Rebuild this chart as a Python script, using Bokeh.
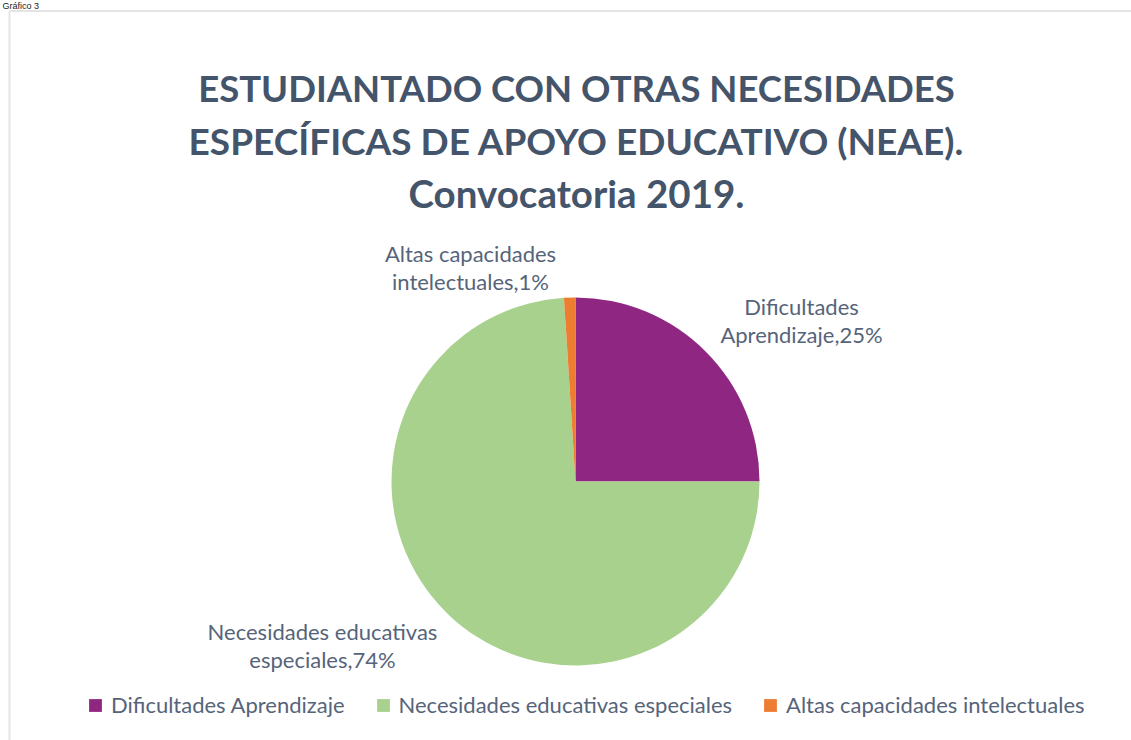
import numpy as np
from bokeh.plotting import figure
from bokeh.models import Range1d, Legend, LegendItem, ColumnDataSource
from bokeh.core.properties import value
from bokeh.embed import file_html
from bokeh.resources import INLINE

categories = ["Dificultades Aprendizaje", "Necesidades educativas especiales", "Altas capacidades intelectuales"]
percentages = [25, 74, 1]
colors = ["#8F2782", "#A9D18E", "#ED7D31"]
label_lines = [["Dificultades", "Aprendizaje,25%"],
               ["Necesidades educativas", "especiales,74%"],
               ["Altas capacidades", "intelectuales,1%"]]
title_lines = ["ESTUDIANTADO CON OTRAS NECESIDADES",
               "ESPECÍFICAS DE APOYO EDUCATIVO (NEAE).",
               "Convocatoria 2019."]

W, H = 1131, 740
p = figure(width=W, height=H, output_backend="svg", toolbar_location=None,
           x_range=Range1d(0, W), y_range=Range1d(0, H), min_border=0)
p.axis.visible = False
p.grid.visible = False
p.outline_line_color = None
p.background_fill_color = "white"
p.border_fill_color = "white"

def Y(page_y):
    return H - page_y

def X(page_x):
    return page_x

# caption above the chart box
p.text(x=[X(2)], y=[Y(0.5)], text=["Gráfico 3"], text_font=value("Liberation Sans"),
       text_font_size="9px", text_color="#222222", text_align="left",
       text_baseline="top")

# frame border (top and left)
p.line([X(9), X(1131)], [Y(10.5), Y(10.5)], line_color="#E4E4E4", line_width=2)
p.line([X(9), X(9)], [Y(10.5), Y(740)], line_color="#E4E4E4", line_width=2)

# pie, clockwise from 12 o'clock
frac = np.array(percentages, dtype=float) / sum(percentages)
cum = np.concatenate([[0], np.cumsum(frac)])
start = np.pi / 2 - cum[1:] * 2 * np.pi
end = np.pi / 2 - cum[:-1] * 2 * np.pi
cx, cy, r = X(575), Y(481), 184
src = ColumnDataSource(dict(start=start, end=end, color=colors, cat=categories))
wr = p.wedge(x=cx, y=cy, radius=r, start_angle="start", end_angle="end",
             fill_color="color", line_color=None, source=src)

# titles
title_y = [87, 140, 192]
title_sizes = ["36.5px", "37px", "38.5px"]
for t, ty, fs in zip(title_lines, title_y, title_sizes):
    p.text(x=[X(576)], y=[Y(ty)], text=[t], text_font=value("Lato"),
           text_font_style="bold", text_font_size=fs, text_color="#44546A",
           text_align="center", text_baseline="alphabetic")

# data labels
lab_pos = [(801, 306), (322, 631), (470, 253)]
for lines, (lx, ly) in zip(label_lines, lab_pos):
    for k, s in enumerate(lines):
        p.text(x=[X(lx)], y=[Y(ly + 28 * k)], text=[s], text_font=value("Lato"),
               text_font_size="22px", text_color="#56647A",
               text_align="center", text_baseline="alphabetic")

items = [LegendItem(label=c, renderers=[wr], index=i) for i, c in enumerate(categories)]
legend = Legend(items=items, orientation="horizontal", location=(X(87), 22),
                label_text_font="Lato", label_text_font_size="22px",
                label_text_color="#56647A", glyph_width=16, glyph_height=16,
                label_standoff=8, spacing=30, padding=0, margin=0,
                border_line_color=None, background_fill_alpha=0)
p.add_layout(legend, "center")

open("out.html", "w").write(file_html(p, INLINE))
